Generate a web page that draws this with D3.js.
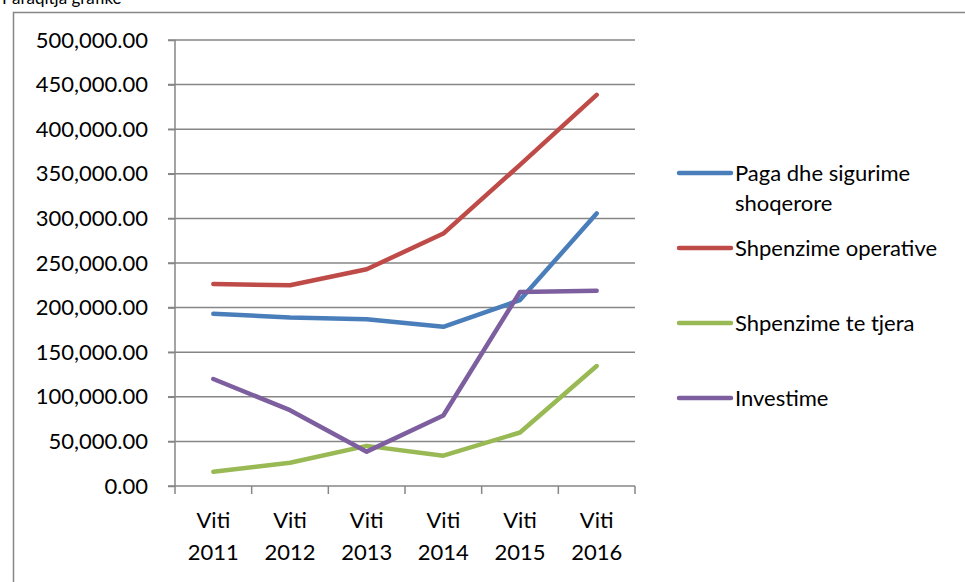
<!DOCTYPE html>
<head>
<meta charset="utf-8">
<style>
body { margin: 0; background: #fff; }
svg { display: block; }
text { font-family: Lato, "Open Sans", sans-serif; fill: #000; }
</style>
</head>
<body>
<svg width="965" height="582"></svg>
<script src="https://d3js.org/d3.v7.min.js"></script>
<script>

// data
var years = ["Viti 2011", "Viti 2012", "Viti 2013", "Viti 2014", "Viti 2015", "Viti 2016"];
var seriesNames = ["Paga dhe sigurime shoqerore", "Shpenzime operative", "Shpenzime te tjera", "Investime"];
var paga = [193000, 189000, 187000, 178500, 208500, 305500];
var operative = [226500, 225000, 243000, 283000, 360000, 438500];
var tjera = [16000, 26000, 45000, 34000, 60000, 134500];
var investime = [120000, 85000, 38500, 79000, 217500, 219000];
var yTicks = [0, 50000, 100000, 150000, 200000, 250000, 300000, 350000, 400000, 450000, 500000];
var colors = ["#4a7ebb", "#be4b48", "#98b954", "#7d5fa0"];

var series = [paga, operative, tjera, investime];

var svg = d3.select("svg");
var grey = "#868686";

// title, cut off at the top edge as in the original
svg.append("text")
    .attr("x", 2)
    .attr("y", 4)
    .style("font-size", "17px")
    .text("Paraqitja grafike");

// outer frame (runs off the right and bottom edge)
svg.append("path")
    .attr("d", "M13.5,600V12.5H970")
    .attr("fill", "none")
    .attr("stroke", grey)
    .attr("stroke-width", 1.5);

var x = d3.scaleBand().domain(years).range([175, 635]);
var y = d3.scaleLinear().domain([0, 500000]).range([486, 40]);

// gridlines
svg.append("g")
  .selectAll("line")
  .data(yTicks)
  .enter().append("line")
    .attr("x1", 168).attr("x2", 635)
    .attr("y1", function(d) { return y(d); })
    .attr("y2", function(d) { return y(d); })
    .attr("stroke", grey)
    .attr("stroke-width", 1.5);

// y axis
var yAxis = svg.append("g")
    .attr("transform", "translate(175,0)")
    .call(d3.axisLeft(y).tickValues(yTicks).tickSize(7).tickPadding(20)
      .tickFormat(d3.format(",.2f")));
yAxis.selectAll("path, line").attr("stroke", grey).attr("stroke-width", 1.5);
yAxis.select(".domain").attr("d", "M0,40V486");
yAxis.selectAll("text").style("font-size", "22px").style("font-family", "Lato");

// x axis ticks at category borders
var borders = years.map(function(d) { return x(d); }).concat([635]);
svg.append("g")
  .selectAll("line")
  .data(borders)
  .enter().append("line")
    .attr("x1", function(d) { return d; })
    .attr("x2", function(d) { return d; })
    .attr("y1", 486).attr("y2", 494)
    .attr("stroke", grey)
    .attr("stroke-width", 1.5);

var xl = svg.append("g")
  .selectAll("text")
  .data(years)
  .enter().append("text")
    .attr("text-anchor", "middle")
    .style("font-size", "22px")
    .attr("x", function(d) { return x(d) + x.bandwidth() / 2; });
xl.append("tspan")
    .attr("x", function(d) { return x(d) + x.bandwidth() / 2; })
    .attr("y", 528)
    .text(function(d) { return d.split(" ")[0]; });
xl.append("tspan")
    .attr("x", function(d) { return x(d) + x.bandwidth() / 2; })
    .attr("y", 560)
    .text(function(d) { return d.split(" ")[1]; });

// lines
var line = d3.line()
    .x(function(d, i) { return x(years[i]) + x.bandwidth() / 2; })
    .y(function(d) { return y(d); });

svg.append("g")
  .selectAll("path")
  .data(series)
  .enter().append("path")
    .attr("d", line)
    .attr("fill", "none")
    .attr("stroke", function(d, i) { return colors[i]; })
    .attr("stroke-width", 4.5)
    .attr("stroke-linecap", "round")
    .attr("stroke-linejoin", "round");

// legend
var legendY = [173, 248, 323, 398];
var leg = svg.append("g")
  .selectAll("g")
  .data(seriesNames)
  .enter().append("g")
    .attr("transform", function(d, i) { return "translate(0," + legendY[i] + ")"; });
leg.append("line")
    .attr("x1", 679).attr("x2", 731)
    .attr("stroke", function(d, i) { return colors[i]; })
    .attr("stroke-width", 4.5)
    .attr("stroke-linecap", "round");
leg.append("text")
    .attr("x", 735)
    .attr("y", 8)
    .style("font-size", "22px")
    .each(function(d, i) {
      var t = d3.select(this);
      if (i === 0) {
        t.append("tspan").attr("x", 735).text("Paga dhe sigurime");
        t.append("tspan").attr("x", 735).attr("dy", 30).text("shoqerore");
      } else {
        t.text(d);
      }
    });

</script>
</body>
